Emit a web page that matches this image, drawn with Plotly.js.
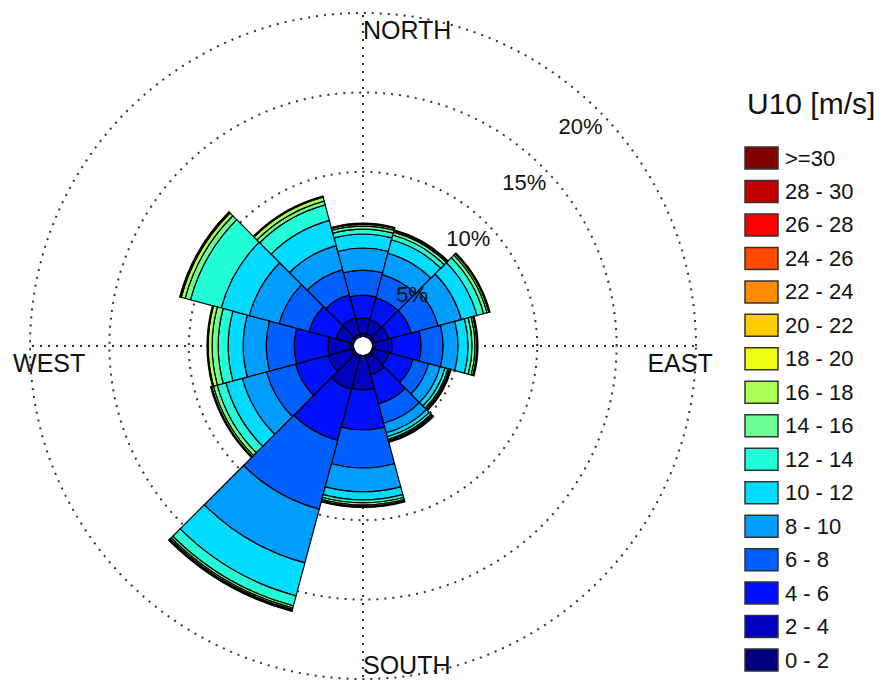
<!DOCTYPE html>
<html>
<head>
<meta charset="utf-8">
<script src="https://cdn.plot.ly/plotly-3.0.1.min.js"></script>
<style>html,body{margin:0;padding:0;background:#fff;}#chart{width:884px;height:681px;}</style>
</head>
<body>
<div id="chart"></div>
<script>
// Wind directions (degrees, compass, clockwise from north)
const directions = [0, 30, 60, 90, 120, 150, 180, 210, 240, 270, 300, 330];

// Wind speed classes
const speedBins = ['0 - 2','2 - 4','4 - 6','6 - 8','8 - 10','10 - 12','12 - 14','14 - 16','16 - 18','18 - 20','20 - 22','22 - 24','24 - 26','26 - 28','28 - 30','>=30'];
const binColors = ['#000080','#0000BF','#0010FF','#0060FF','#009DFF','#00DCFF','#22FFD8','#6CFF94','#AAFF52','#EEFF12','#FFCC00','#FF8C00','#FF4A00','#FF0000','#C00000','#800000'];

// Frequency (%) per speed class, one value per direction
const f_0_2   = [0.23, 0.23, 0.23, 0.23, 0.23, 0.23, 0.23, 0.23, 0.23, 0.23, 0.23, 0.23];
const f_2_4   = [0.96, 0.90, 0.90, 1.03, 0.90, 1.09, 1.97, 2.03, 1.47, 1.40, 0.96, 1.03];
const f_4_6   = [1.45, 1.45, 1.45, 1.83, 1.57, 1.89, 2.52, 3.34, 2.14, 2.14, 1.76, 1.51];
const f_6_8   = [1.57, 1.51, 1.76, 1.39, 1.01, 1.26, 2.39, 4.47, 1.89, 1.76, 1.95, 1.64];
const f_8_10  = [1.39, 1.39, 1.51, 0.94, 0.76, 0.63, 1.51, 3.50, 1.57, 1.45, 1.95, 1.57];
const f_10_12 = [0.88, 0.88, 1.01, 0.63, 0.31, 0.25, 0.50, 2.15, 1.07, 0.94, 1.83, 1.64];
const f_12_14 = [0.31, 0.31, 0.44, 0.25, 0.19, 0.16, 0.19, 0.65, 0.57, 0.63, 2.00, 1.01];
const f_14_16 = [0.19, 0.19, 0.22, 0.19, 0.09, 0.09, 0.13, 0.15, 0.25, 0.38, 0.35, 0.25];
const f_16_18 = [0.11, 0.08, 0.12, 0.11, 0.05, 0.05, 0.08, 0.10, 0.11, 0.25, 0.25, 0.25];
const f_18_20 = [0.04, 0.04, 0.04, 0.04, 0.04, 0.04, 0.04, 0.05, 0.04, 0.04, 0.05, 0.04];
const f_20_22 = [0.03, 0.03, 0.03, 0.03, 0.03, 0.03, 0.03, 0.04, 0.03, 0.03, 0.03, 0.03];
const f_22_24 = [0.00, 0.00, 0.00, 0.00, 0.00, 0.00, 0.00, 0.02, 0.00, 0.00, 0.02, 0.00];
const f_24_26 = [0, 0, 0, 0, 0, 0, 0, 0, 0, 0, 0, 0];
const f_26_28 = [0, 0, 0, 0, 0, 0, 0, 0, 0, 0, 0, 0];
const f_28_30 = [0, 0, 0, 0, 0, 0, 0, 0, 0, 0, 0, 0];
const f_30_up = [0, 0, 0, 0, 0, 0, 0, 0, 0, 0, 0, 0];

const freqs = [f_0_2, f_2_4, f_4_6, f_6_8, f_8_10, f_10_12, f_12_14, f_14_16, f_16_18, f_18_20,
               f_20_22, f_22_24, f_24_26, f_26_28, f_28_30, f_30_up];

// Radial grid ticks
const radialTicks = [5, 10, 15, 20];
const radialTickLabels = ['5%', '10%', '15%', '20%'];
const compassLabels = ['NORTH', 'EAST', 'SOUTH', 'WEST'];
const compassAngles = [0, 90, 180, 270];

// Radial range: bars start at the hole edge; outer range a little past the 20% ring
const rMin = -0.4, rMax = 20.12;

const traces = [];
let cum = directions.map(() => rMin);
freqs.forEach((vals, b) => {
  if (vals.every(v => v === 0)) return;
  traces.push({
    type: 'barpolar',
    name: speedBins[b],
    r: vals,
    theta: directions,
    base: cum.slice(),
    width: directions.map(() => 30),
    marker: {color: binColors[b], line: {color: '#000', width: 1.2}},
    showlegend: false,
    hoverinfo: 'skip'
  });
  cum = cum.map((c, i) => c + vals[i]);
});

const FONT = 'Liberation Sans, Arial, sans-serif';

// Radial labels (percent) along the NE diagonal, just inside each ring
traces.push({
  type: 'scatterpolar', mode: 'text',
  r: radialTicks.map(t => t - 1.6), theta: radialTicks.map(() => 45),
  text: radialTickLabels, textposition: 'middle center',
  textfont: {family: FONT, size: 22, color: '#111'},
  cliponaxis: false, showlegend: false, hoverinfo: 'skip'
});
// Compass labels (just inside the outer ring, slightly below/right of each spoke)
traces.push({
  type: 'scatterpolar', mode: 'text',
  r: [19.55, 19.0, 18.5, 18.8], theta: [0, 91.3, 180, 268.7],
  text: compassLabels, textposition: ['bottom right', 'bottom center', 'bottom right', 'bottom center'],
  textfont: {family: FONT, size: 25, color: '#111'},
  cliponaxis: false, showlegend: false, hoverinfo: 'skip'
});

const W = 884, H = 681;
// Polar geometry (pixels): centre, hole radius, radius of the 20% ring
const cx = 363, cy = 346, holePx = 9, ring20Px = 333;
const pxPerUnit = (ring20Px - holePx) / (20 - rMin);
const Rpx = ring20Px + (rMax - 20) * pxPerUnit;

const shapes = [], annotations = [];
const legendTop = 158, legendStep = 33.47;
const order = speedBins.map((_, i) => speedBins.length - 1 - i);
order.forEach((b, i) => {
  const yc = legendTop + i * legendStep;
  shapes.push({type: 'rect', xref: 'paper', yref: 'paper',
    x0: 745 / W, x1: 778 / W, y0: 1 - (yc + 11) / H, y1: 1 - (yc - 11) / H,
    fillcolor: binColors[b], line: {color: '#333', width: 1.5}});
  annotations.push({xref: 'paper', yref: 'paper', x: 783 / W, y: 1 - yc / H,
    xanchor: 'left', yanchor: 'middle', showarrow: false, text: speedBins[b],
    font: {family: FONT, size: 22, color: '#111'}});
});
annotations.push({xref: 'paper', yref: 'paper', x: 745 / W, y: 1 - 104 / H,
  xanchor: 'left', yanchor: 'middle', showarrow: false, text: 'U10 [m/s]',
  font: {family: FONT, size: 30, color: '#111'}});

const layout = {
  width: W, height: H,
  margin: {l: 0, r: 0, t: 0, b: 0},
  paper_bgcolor: '#fff',
  showlegend: false,
  polar: {
    domain: {x: [(cx - Rpx) / W, (cx + Rpx) / W],
             y: [Math.max(0, 1 - (cy + Rpx) / H), Math.min(1, 1 - (cy - Rpx) / H)]},
    hole: holePx / Rpx,
    bgcolor: '#fff',
    barmode: 'overlay',
    radialaxis: {range: [rMin, rMax], tickvals: radialTicks, showticklabels: false, ticks: '',
      showline: false, gridcolor: '#333', gridwidth: 2, griddash: '2px,6px', angle: 45},
    angularaxis: {rotation: 90, direction: 'clockwise', tickvals: compassAngles, showticklabels: false,
      ticks: '', showline: false, gridcolor: '#333', gridwidth: 2, griddash: '2px,6px'}
  },
  shapes: shapes,
  annotations: annotations
};

Plotly.newPlot('chart', traces, layout, {staticPlot: true, displayModeBar: false});
</script>
</body>
</html>
